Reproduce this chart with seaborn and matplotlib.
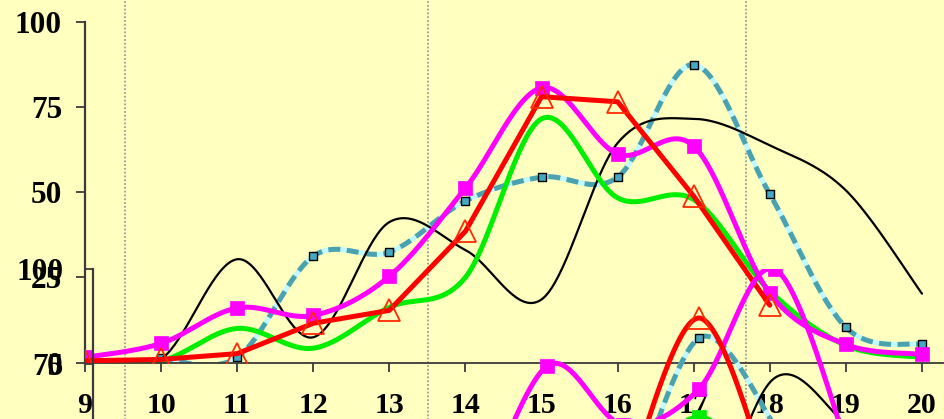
import numpy as np
import matplotlib
matplotlib.use("Agg")
import matplotlib.pyplot as plt
import seaborn as sns

# ---- data -------------------------------------------------------------
hours = [9, 10, 11, 12, 13, 14, 15, 16, 17, 18, 19, 20]
black = [0.0, 1.0, 30.3, 7.4, 41.2, 33.0, 18.5, 64.4, 71.5, 63.7, 50.5, 20.2]
green = [0.5, 0.5, 10.0, 4.2, 16.2, 25.0, 71.5, 48.3, 47.8, 21.0, 5.0, 1.5]
magenta = [1.5, 5.6, 16.0, 13.8, 25.3, 51.2, 80.6, 61.2, 63.5, 20.3, 5.3, 2.4]
teal_hours = [10, 11, 12, 13, 14, 15, 16, 17, 18, 19, 20]
teal = [1.2, 1.5, 31.2, 32.4, 47.4, 54.4, 54.4, 87.4, 49.4, 10.3, 5.3]
red_hours = [9, 10, 11, 12, 13, 14, 15, 16, 17, 18]
red = [0.5, 0.9, 2.6, 11.5, 15.3, 38.5, 78.0, 76.5, 48.8, 16.8]

# lower panel (only its upper part lies inside the canvas)
mag2_hours = [14, 15, 16, 17, 18, 19]
magenta2 = [32.0, 74.5, 59.0, 68.4, 100.0, 51.0]
red2_hours = [16, 17, 18]
red2 = [40.0, 87.1, 40.0]
teal2_hours = [16, 17, 18]
teal2 = [33.0, 81.8, 59.0]
green2_hours = [16, 17, 18]
green2 = [45.0, 61.0, 45.0]
black2_hours = [16, 17, 18, 19, 20]
black2 = [31.0, 30.0, 71.3, 58.0, 40.0]

y_ticks = [0, 25, 50, 75, 100]
y2_ticks = [75, 100]
x_ticks = hours
divider_x = [9.525, 13.51, 17.69]

BG = "#FFFFBF"
TEAL_DARK = "#4AA2AE"
TEAL_LIGHT = "#C2F8FF"
TEAL_MARK = "#45A9C4"
AXIS = "#3A3A3A"


def smooth(xv, yv, n=40):
    """Bezier smoothing through the points (Catmull-Rom style control points)."""
    x = np.asarray(xv, float)
    y = np.asarray(yv, float)
    xp = np.concatenate([[x[0]], x, [x[-1]]])
    yp = np.concatenate([[y[0]], y, [y[-1]]])
    t = np.linspace(0, 1, n)
    xs, ys = [], []
    for i in range(1, len(xp) - 2):
        x0, x1, x2, x3 = xp[i - 1:i + 3]
        y0, y1, y2, y3 = yp[i - 1:i + 3]
        cx1, cy1 = x1 + (x2 - x0) / 6, y1 + (y2 - y0) / 6
        cx2, cy2 = x2 - (x3 - x1) / 6, y2 - (y3 - y1) / 6
        b0, b1, b2, b3 = (1 - t) ** 3, 3 * (1 - t) ** 2 * t, 3 * (1 - t) * t ** 2, t ** 3
        seg_x = b0 * x1 + b1 * cx1 + b2 * cx2 + b3 * x2
        seg_y = b0 * y1 + b1 * cy1 + b2 * cy2 + b3 * y2
        if i > 1:
            seg_x, seg_y = seg_x[1:], seg_y[1:]
        xs.append(seg_x)
        ys.append(seg_y)
    return np.concatenate(xs), np.concatenate(ys)


def curve(ax, xv, yv, color, lw, z):
    sx, sy = smooth(xv, yv)
    sns.lineplot(x=sx, y=sy, ax=ax, sort=False, estimator=None, color=color,
                 linewidth=lw, zorder=z, legend=False)


def teal_curve(ax, xv, yv, z):
    sx, sy = smooth(xv, yv)
    sns.lineplot(x=sx, y=sy, ax=ax, sort=False, estimator=None, color=TEAL_LIGHT,
                 linewidth=3.6, zorder=z, legend=False)
    sns.lineplot(x=sx, y=sy, ax=ax, sort=False, estimator=None, color=TEAL_DARK,
                 linewidth=3.6, zorder=z + 0.01, legend=False,
                 dashes=False, linestyle=(0, (2.4, 1.3)))
    sns.scatterplot(x=xv, y=yv, ax=ax, marker="s", s=30, color=TEAL_MARK,
                    edgecolor="black", linewidth=1.0, zorder=z + 0.02, legend=False)


def squares(ax, xv, yv, color, s, z):
    sns.scatterplot(x=xv, y=yv, ax=ax, marker="s", s=s, color=color,
                    edgecolor=color, linewidth=0.5, zorder=z, legend=False)


def triangles(ax, xv, yv, z):
    ax.plot(xv, yv, linestyle="none", marker="^", markersize=15.5,
            markerfacecolor="none", markeredgecolor="#FF2A00",
            markeredgewidth=1.3, zorder=z)


sns.set_theme(style="ticks")
plt.rcParams["font.family"] = ["Liberation Serif", "DejaVu Serif"]
plt.rcParams["font.weight"] = "bold"
plt.rcParams["text.color"] = "black"
plt.rcParams["xtick.labelcolor"] = "black"
plt.rcParams["ytick.labelcolor"] = "black"

fig = plt.figure(figsize=(9.44, 4.19), dpi=100, facecolor=BG)

# ---- upper (main) panel ---------------------------------------------------
W, H = 944.0, 419.0
px_unit = 76.09
ax = fig.add_axes([85 / W, 56.5 / H, 865 / W, 340.8 / H])
ax.set_facecolor(BG)
ax.set_xlim(9, 9 + 865 / px_unit)
ax.set_ylim(0, 100)

for xv in divider_x:
    ax.axvline(xv, ymin=-0.2, ymax=1.1, color="#9C9C9C", linewidth=1.3,
               linestyle=(0, (1, 1.1)), clip_on=False, zorder=0.6)

teal_curve(ax, teal_hours, teal, 2.0)
curve(ax, hours, black, "black", 1.6, 2.2)
curve(ax, hours, green, "#00EE00", 3.6, 2.4)
curve(ax, hours, magenta, "#FF00FF", 3.6, 2.6)
squares(ax, hours, magenta, "#FF00FF", 110, 2.7)
sns.lineplot(x=red_hours, y=red, ax=ax, sort=False, estimator=None,
             color="#FF0000", linewidth=3.6, zorder=2.8, legend=False)
triangles(ax, red_hours, red, 2.9)

ax.set_xticks(x_ticks)
ax.set_xticklabels([str(h) for h in x_ticks])
ax.set_yticks(y_ticks)
ax.set_yticklabels([str(v) for v in y_ticks])
ax.tick_params(axis="x", length=6.5, width=1.3, pad=15, labelsize=21.5,
               color=AXIS, labelcolor="black", direction="out")
ax.tick_params(axis="y", length=6.5, width=1.3, pad=10, labelsize=22.5,
               color=AXIS, labelcolor="black", direction="out")
for lab in ax.get_xticklabels() + ax.get_yticklabels():
    lab.set_fontweight("bold")
    lab.set_color("black")
for side in ("top", "right"):
    ax.spines[side].set_visible(False)
ax.spines["left"].set_color(AXIS)
ax.spines["left"].set_linewidth(1.6)
ax.spines["bottom"].set_color(AXIS)
ax.spines["bottom"].set_linewidth(1.3)
ax.set_xlabel("")
ax.set_ylabel("")

# ---- lower panel, drawn over the first one --------------------------------
px_unit2 = 75.73
ax2 = fig.add_axes([93 / W, (H - 269 - 380) / H, 857 / W, 380 / H])
ax2.set_facecolor("none")
ax2.set_xlim(9, 9 + 857 / px_unit2)
ax2.set_ylim(0, 100)

teal_curve(ax2, teal2_hours, teal2, 2.0)
curve(ax2, black2_hours, black2, "black", 1.6, 2.2)
curve(ax2, green2_hours, green2, "#00EE00", 3.6, 2.4)
squares(ax2, green2_hours, green2, "#00EE00", 110, 2.45)
curve(ax2, mag2_hours, magenta2, "#FF00FF", 3.6, 2.6)
squares(ax2, mag2_hours, magenta2, "#FF00FF", 110, 2.7)
curve(ax2, red2_hours, red2, "#FF0000", 3.6, 2.8)
triangles(ax2, red2_hours, red2, 2.9)

ax2.set_yticks(y2_ticks)
ax2.set_yticklabels([str(v) for v in y2_ticks])
ax2.tick_params(axis="y", length=6, width=1.3, pad=15.5, labelsize=22.5,
                color=AXIS, labelcolor="black", direction="out")
ax2.tick_params(axis="x", bottom=False, labelbottom=False)
for lab in ax2.get_yticklabels():
    lab.set_fontweight("bold")
    lab.set_color("black")
for side in ("top", "right", "bottom"):
    ax2.spines[side].set_visible(False)
ax2.spines["left"].set_color(AXIS)
ax2.spines["left"].set_linewidth(1.6)
ax2.set_xlabel("")
ax2.set_ylabel("")

fig.savefig("out.png", dpi=100, facecolor=BG)
